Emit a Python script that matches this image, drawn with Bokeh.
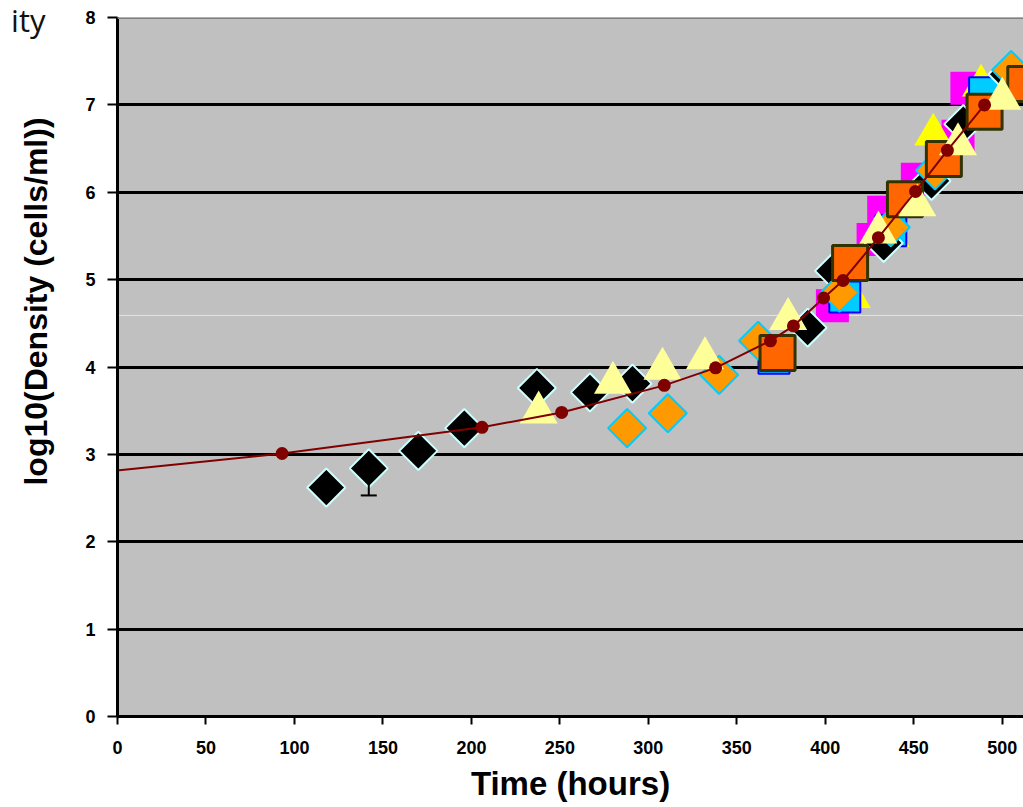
import math
from bokeh.plotting import figure
from bokeh.models import FixedTicker, Range1d, Label, Span, Whisker, ColumnDataSource, TeeHead, Grid
from bokeh.embed import file_html
from bokeh.resources import INLINE

# ---------------- data ----------------
x_ticks = [0, 50, 100, 150, 200, 250, 300, 350, 400, 450, 500]
y_ticks = [0, 1, 2, 3, 4, 5, 6, 7, 8]
y_grid = [1, 2, 3, 4, 5, 6, 7]

# model curve (dark red line) and its points
fit_line_x = [-12, 93, 206, 251, 309, 338, 369, 382, 399, 410, 430, 451, 469, 490]
fit_line_y = [2.79, 3.01, 3.31, 3.48, 3.79, 3.99, 4.30, 4.47, 4.79, 4.99, 5.48, 6.01, 6.48, 7.00]
model_x = [93, 206, 251, 309, 338, 369, 382, 399, 410, 430, 451, 469, 490]
model_y = [3.01, 3.31, 3.48, 3.79, 3.99, 4.30, 4.47, 4.79, 4.99, 5.48, 6.01, 6.48, 7.00]

# black diamonds
black_x = [118, 142, 170, 196, 237, 267, 291, 390, 405, 433, 460, 478, 503]
black_y = [2.62, 2.84, 3.04, 3.30, 3.76, 3.71, 3.81, 4.45, 5.10, 5.42, 6.13, 6.78, 7.35]
err_x = [142]
err_low = [2.53]
err_high = [2.84]

# orange diamonds
orange_d_x = [288, 311, 340, 362, 408, 437, 462, 505]
orange_d_y = [3.30, 3.47, 3.91, 4.30, 4.85, 5.60, 6.25, 7.40]

# pale yellow triangles
pale_t_x = [238, 280, 308, 332, 379, 430, 452, 475, 500]
pale_t_y = [3.48, 3.82, 3.98, 4.10, 4.55, 5.54, 5.85, 6.55, 7.07]

# yellow triangles
yel_t_x = [415, 437, 461, 488]
yel_t_y = [4.80, 5.50, 6.66, 7.22]

# magenta squares
mag_x = [404, 427, 433, 452, 475, 480]
mag_y = [4.70, 5.46, 5.77, 6.15, 6.64, 7.19]

# cyan squares
cyan_x = [371, 411, 437, 490]
cyan_y = [4.10, 4.80, 5.56, 7.14]

# orange squares
orange_s_x = [373, 414, 445, 467, 490, 513]
orange_s_y = [4.16, 5.19, 5.92, 6.38, 6.92, 7.24]

# ---------------- figure ----------------
p = figure(width=1023, height=807, output_backend="svg", toolbar_location=None,
           x_range=Range1d(0, 512), y_range=Range1d(0, 8),
           min_border_left=117, min_border_right=0, min_border_top=17, min_border_bottom=91)
p.background_fill_color = "#C0C0C0"
p.border_fill_color = "white"
p.outline_line_color = None

p.xgrid.visible = False
p.ygrid.visible = False
p.add_layout(Grid(dimension=1, ticker=FixedTicker(ticks=y_grid), grid_line_color="black",
                  grid_line_width=3))
p.add_layout(Span(location=8, dimension="width", line_color="#808080", line_width=3))

p.add_layout(Span(location=4.59, dimension="width", line_color="#E4E4E4", line_width=1,
                  level="underlay"))

for ax, ticks in ((p.xaxis[0], x_ticks), (p.yaxis[0], y_ticks)):
    ax.ticker = FixedTicker(ticks=ticks)
    ax.axis_line_color = "black"
    ax.axis_line_width = 3
    ax.major_tick_line_color = "black"
    ax.major_tick_line_width = 2
    ax.major_tick_in = 0
    ax.minor_tick_line_color = None
    ax.major_label_text_font = "Liberation Sans"
    ax.major_label_text_font_style = "bold"
    ax.major_label_text_font_size = "18px"
    ax.major_label_text_color = "black"

p.xaxis.major_tick_out = 8
p.xaxis.major_label_standoff = 16
p.yaxis.major_tick_out = 10
p.yaxis.major_label_standoff = 12

p.xaxis.axis_label = "Time (hours)"
p.xaxis.axis_label_text_font = "Liberation Sans"
p.xaxis.axis_label_text_font_style = "bold"
p.xaxis.axis_label_text_font_size = "33px"
p.xaxis.axis_label_text_color = "black"
p.xaxis.axis_label_standoff = 8

# y label placed as free text in the left panel (off-centre, like the reference)
p.add_layout(Label(x=-11, y=415, x_units="screen", y_units="screen",
                   text="log10(Density (cells/ml))", angle=math.pi / 2,
                   text_align="center", text_baseline="middle", text_font="Liberation Sans",
                   text_font_style="bold", text_font_size="32px", text_color="black"), "left")
# remnant of a cropped slide title
p.add_layout(Label(x=33, y=697, x_units="screen", y_units="screen", text="ity",
                   text_align="right", text_baseline="alphabetic",
                   text_font="Open Sans", text_font_size="31px", text_color="#111111"), "left")

# ---------------- series ----------------
p.scatter(mag_x, mag_y, marker="square", size=33, fill_color="#FF00FF", line_color=None)
p.scatter(yel_t_x, yel_t_y, marker="triangle", size=38, fill_color="#FFFF00", line_color=None)
p.scatter(cyan_x, cyan_y, marker="square", size=31, fill_color="#00CCFF", line_color="#0000FF",
          line_width=2)

err_src = ColumnDataSource(dict(x=err_x, lo=err_low, hi=err_high))
p.add_layout(Whisker(source=err_src, base="x", lower="lo", upper="hi", dimension="height",
                     line_color="black", line_width=2, level="glyph",
                     lower_head=TeeHead(size=16, line_color="black", line_width=2),
                     upper_head=None))

p.scatter(black_x, black_y, marker="square", angle=math.pi / 4, size=27, fill_color="black",
          line_color="#CCFFFF", line_width=2)
p.scatter(orange_d_x, orange_d_y, marker="square", angle=math.pi / 4, size=27,
          fill_color="#FF9900", line_color="#00CCFF", line_width=2)
p.scatter(orange_s_x, orange_s_y, marker="square", size=35, fill_color="#FF6600",
          line_color="#333300", line_width=3)
p.scatter(pale_t_x, pale_t_y, marker="triangle", size=38, fill_color="#FFFF99", line_color=None)

p.line(fit_line_x, fit_line_y, line_color="#800000", line_width=2)
p.scatter(model_x, model_y, marker="circle", size=13, fill_color="#800000", line_color=None)

open("out.html", "w").write(file_html(p, INLINE))
